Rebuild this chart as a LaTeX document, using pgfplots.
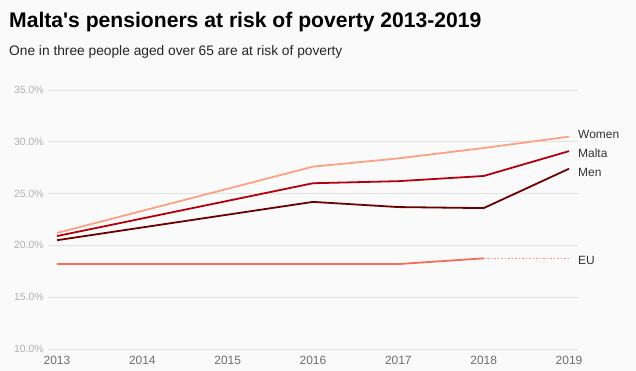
\documentclass[border=0pt]{standalone}
\usepackage{pgfplots}
\pgfplotsset{compat=1.18}
\usepackage{fontspec}
\setmainfont{Liberation Sans}
\definecolor{bg}{HTML}{FAFAFA}
\definecolor{gridc}{HTML}{E2E2E2}
\definecolor{ylab}{HTML}{B0B0B0}
\definecolor{xlab}{HTML}{6E6E6E}
\definecolor{women}{HTML}{FCA184}
\definecolor{malta}{HTML}{B3000F}
\definecolor{men}{HTML}{6B0000}
\definecolor{eu}{HTML}{F46D5A}
\definecolor{lab}{HTML}{333333}
\begin{document}
\begin{tikzpicture}
\fill[bg] (0bp,0bp) rectangle (636bp,371bp);
\node[anchor=base west, inner sep=0, font=\bfseries\fontsize{21.2}{24}\selectfont, text=black] at (9bp,343bp) {Malta\textquotesingle s pensioners at risk of poverty 2013-2019};
\node[anchor=base west, inner sep=0, font=\fontsize{13.8}{16}\selectfont, text=black!85] at (9bp,315bp) {One in three people aged over 65 are at risk of poverty};
\begin{axis}[
  at={(48bp,22bp)}, anchor=south west, scale only axis,
  width=530bp, height=259bp,
  xmin=2012.895, xmax=2019.105, ymin=10, ymax=35,
  axis line style={draw=none},
  major tick length=0pt,
  ymajorgrids, grid style={color=gridc, line width=0.8bp},
  xtick={2013,2014,2015,2016,2017,2018,2019},
  ytick={10,15,20,25,30,35},
  /pgf/number format/assume math mode=true,
  xticklabel={\pgfmathprintnumber[1000 sep={}]{\tick}},
  yticklabel={\pgfmathprintnumber[fixed,fixed zerofill,precision=1]{\tick}\%},
  xticklabel style={font=\fontsize{12}{14}\selectfont, text=xlab, anchor=north, inner sep=0pt, yshift=-6.5bp},
  yticklabel style={font=\fontsize{10.5}{12}\selectfont, text=ylab, anchor=east, inner sep=0pt, xshift=-4bp},
  clip=false,
]
\addplot[women, line width=1.8bp] coordinates {(2013,21.2) (2016,27.6) (2017,28.4) (2018,29.4) (2019,30.5)};
\addplot[malta, line width=1.8bp] coordinates {(2013,20.9) (2016,26.0) (2017,26.2) (2018,26.7) (2019,29.1)};
\addplot[men, line width=1.8bp] coordinates {(2013,20.5) (2016,24.2) (2017,23.7) (2018,23.6) (2019,27.4)};
\addplot[eu, line width=1.8bp] coordinates {(2013,18.2) (2016,18.2) (2017,18.2) (2018,18.75)};
\addplot[eu!80, line width=1.5bp, dash pattern=on 1.5bp off 2bp] coordinates {(2018,18.75) (2019,18.75)};
\node[anchor=west, inner sep=0, font=\fontsize{12}{14}\selectfont, text=lab] at (axis cs:2019.105,30.75) {Women};
\node[anchor=west, inner sep=0, font=\fontsize{12}{14}\selectfont, text=lab] at (axis cs:2019.105,28.9) {Malta};
\node[anchor=west, inner sep=0, font=\fontsize{12}{14}\selectfont, text=lab] at (axis cs:2019.105,27.0) {Men};
\node[anchor=west, inner sep=0, font=\fontsize{12}{14}\selectfont, text=lab] at (axis cs:2019.105,18.55) {EU};
\end{axis}
\end{tikzpicture}
\end{document}
